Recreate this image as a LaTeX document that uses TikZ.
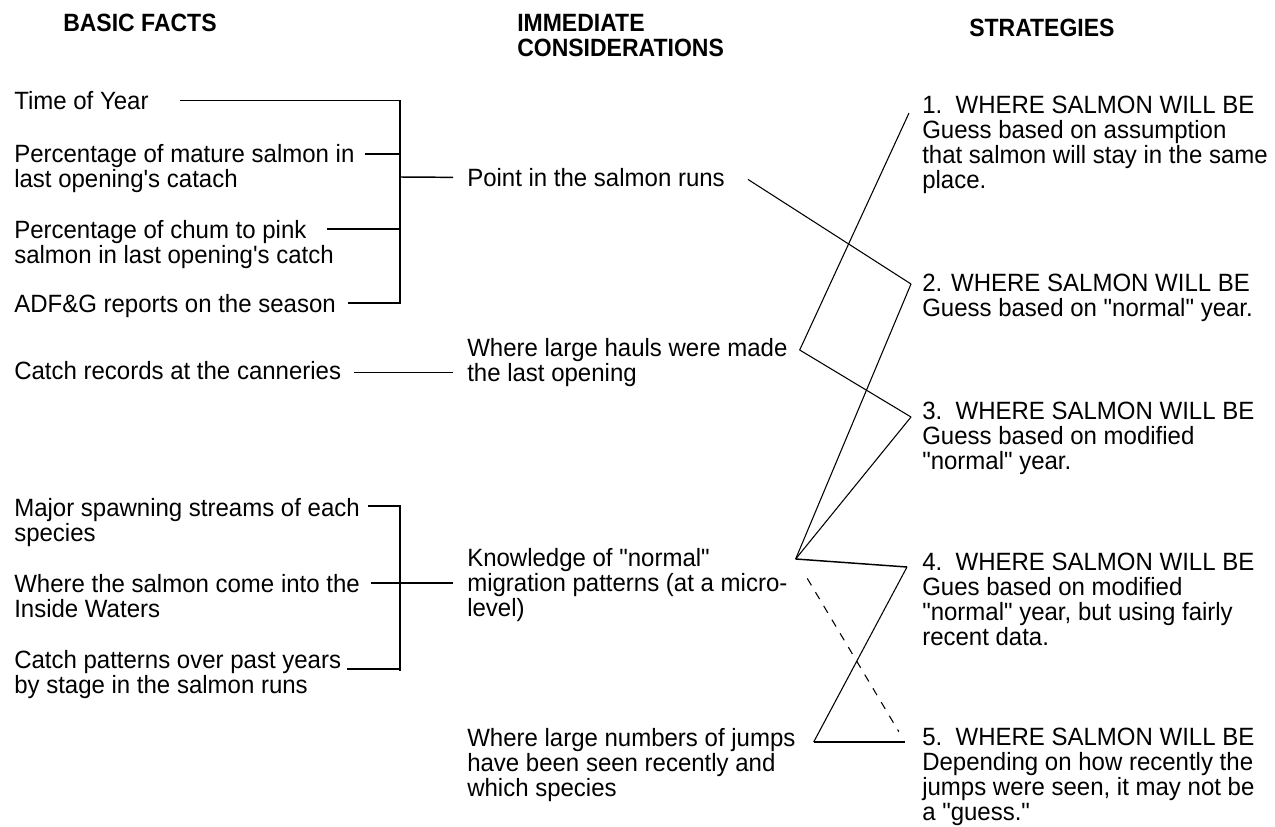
\documentclass[tikz,border=0pt]{standalone}
\usepackage{fontspec}
\newfontfamily\factfamily{Liberation Sans}[FakeStretch=0.96]
\newfontfamily\capfamily{Liberation Sans}[FakeStretch=0.92]
\newcommand\factfont{\factfamily\fontsize{18.75pt}{18.75pt}\selectfont}
\newcommand\capfont{\capfamily\bfseries\fontsize{18.75pt}{18.75pt}\selectfont}
\tikzset{head/.style = {font=\capfont, inner sep=0, anchor=north west, align=left}}
\tikzset{fact/.style = {font=\factfont, inner sep=0, anchor=north west, align=left}}
\tikzset{tie/.style = {line width=1.1pt}}
\tikzset{spine/.style = {line width=1.2pt}}
\tikzset{route/.style = {line width=0.8pt}}

\begin{document}
\begin{tikzpicture}[x=0.75pt, y=-0.75pt]
    \useasboundingbox [fill=white] (0,0) rectangle (1275,827);

    % column heads
    \node [head] (basic) at (63,14) {BASIC FACTS};
    \node [head] (immed) at (517,14) {IMMEDIATE\\CONSIDERATIONS};
    \node [head] (strat) at (969,19) {STRATEGIES};

    % basic facts
    \node [fact] (tyear) at (14,91) {Time of Year};
    \node [fact] (mature) at (14,144) {Percentage of mature salmon in\\last opening's catach};
    \node [fact] (chum) at (14,220) {Percentage of chum to pink\\salmon in last opening's catch};
    \node [fact] (adfg) at (14,294) {ADF\&G reports on the season};
    \node [fact] (records) at (14,361) {Catch records at the canneries};
    \node [fact] (streams) at (14,498) {Major spawning streams of each\\species};
    \node [fact] (inside) at (14,574) {Where the salmon come into the\\Inside Waters};
    \node [fact] (pattern) at (14,650) {Catch patterns over past years\\by stage in the salmon runs};

    % immediate considerations
    \node [fact] (point) at (467,168) {Point in the salmon runs};
    \node [fact] (hauls) at (467,338) {Where large hauls were made\\the last opening};
    \node [fact] (knowledge) at (467,548) {Knowledge of "normal"\\migration patterns (at a micro-\\level)};
    \node [fact] (jumps) at (467,728) {Where large numbers of jumps\\have been seen recently and\\which species};

    % strategies
    \node [fact] (s1) at (922,96) {1.\ \ WHERE SALMON WILL BE\\Guess based on assumption\\that salmon will stay in the same\\place.};
    \node [fact] (s2) at (922,274) {2. WHERE SALMON WILL BE\\Guess based on "normal" year.};
    \node [fact] (s3) at (922,402) {3.\ \ WHERE SALMON WILL BE\\Guess based on modified\\"normal" year.};
    \node [fact] (s4) at (922,553) {4.\ \ WHERE SALMON WILL BE\\Gues based on modified\\"normal" year, but using fairly\\recent data.};
    \node [fact] (s5) at (922,728) {5.\ \ WHERE SALMON WILL BE\\Depending on how recently the\\jumps were seen, it may not be\\a "guess."};

    % brackets
    \coordinate (spineA) at (400,177);
    \coordinate (spineB) at (400,583);
    \draw [tie] ([shift={(31,0)}]tyear.east) coordinate (ta) -| (spineA);
    \draw [tie] ([shift={(10,10)}]mature.north east) -| (spineA);
    \draw [tie] ([shift={(-7,9)}]chum.north east) -| (spineA);
    \draw [tie] ([shift={(12,-3)}]adfg.east) coordinate (tb) -| (spineA);
    \draw [spine] (ta -| spineA) -- (tb -| spineA);
    \draw [tie, shorten >=10.5pt] (spineA) -- (point.west);

    \draw [tie, shorten >=10.5pt] ([shift={(13,2)}]records.east) -- ([shift={(0,2)}]records.east -| hauls.west);

    \draw [tie] ([shift={(8,8)}]streams.north east) coordinate (ba) -| (spineB);
    \draw [tie, shorten >=10.5pt] ([shift={(11,9)}]inside.north east) -- (spineB -| knowledge.west);
    \draw [tie] ([shift={(6,19)}]pattern.north east) coordinate (bb) -| (spineB);
    \draw [spine] (ba -| spineB) -- ([shift={(0,2)}]bb -| spineB);

    % links to strategies
    \coordinate (pv) at ([shift={(23,2)}]point.east);
    \coordinate (hv) at ([shift={(12,12)}]hauls.north east);
    \coordinate (kv) at ([shift={(8,11)}]knowledge.north east);
    \coordinate (jv) at ([shift={(18,14)}]jumps.north east);
    \coordinate (s1v) at ([shift={(-13,17)}]s1.north west);
    \coordinate (s2v) at ([shift={(-11,10)}]s2.north west);
    \coordinate (s3v) at ([shift={(-11,15)}]s3.north west);
    \coordinate (s4v) at ([shift={(-15,14)}]s4.north west);
    \coordinate (s5v) at ([shift={(-17,14)}]s5.north west);

    \draw [route] (pv) -- (s2v);
    \draw [route] (hv) -- (s1v);
    \draw [route] (hv) -- (s3v);
    \draw [route] (kv) -- (s2v);
    \draw [route] (kv) -- (s3v);
    \draw [tie] (kv) -- (s4v);
    \draw [route, dash pattern=on 6pt off 6pt, shorten <=17pt, shorten >=9pt] (kv) -- (s5v);
    \draw [route] (jv) -- (s4v);
    \draw [tie] (jv) -- (s5v);
\end{tikzpicture}
\end{document}
